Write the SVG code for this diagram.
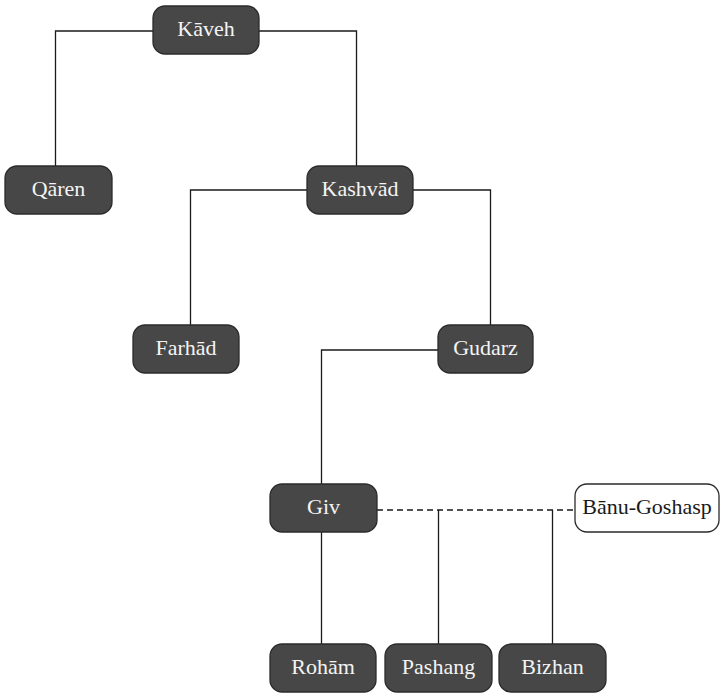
<svg xmlns="http://www.w3.org/2000/svg" width="723" height="693" viewBox="0 0 723 693">
  <style>
    .node rect { fill: #474747; stroke: #2b2b2b; stroke-width: 1.3; }
    .node text { fill: #f4f4f4; font-family: "Liberation Serif", "DejaVu Serif", serif; font-size: 22px; text-anchor: middle; }
    .spouse rect { fill: #ffffff; stroke: #2b2b2b; stroke-width: 1.3; }
    .spouse text { fill: #1a1a1a; }
    .link { fill: none; stroke: #1a1a1a; stroke-width: 1.3; }
    .marriage { stroke-dasharray: 6 4; }
  </style>
  <rect width="723" height="693" fill="#ffffff"/>

  <g id="connectors">
    <path class="link" d="M153 31 H55.5 V166"/>
    <path class="link" d="M259 31 H356.5 V166"/>
    <path class="link" d="M307 190 H190.5 V325"/>
    <path class="link" d="M413 190 H490.5 V325"/>
    <path class="link" d="M438 350 H321.5 V484"/>
    <path class="link marriage" d="M377 510 H575"/>
    <path class="link" d="M321.5 532 V644"/>
    <path class="link" d="M438.5 510 V644"/>
    <path class="link" d="M552.5 510 V644"/>
  </g>

  <g id="kaveh" class="node">
    <rect x="153" y="6" width="106" height="48" rx="12"/>
    <text x="206" y="36">Kāveh</text>
  </g>
  <g id="qaren" class="node">
    <rect x="5" y="166" width="107" height="48" rx="12"/>
    <text x="58.5" y="196">Qāren</text>
  </g>
  <g id="kashvad" class="node">
    <rect x="307" y="166" width="106" height="48" rx="12"/>
    <text x="360" y="196">Kashvād</text>
  </g>
  <g id="farhad" class="node">
    <rect x="133" y="325" width="106" height="48" rx="12"/>
    <text x="186" y="355">Farhād</text>
  </g>
  <g id="gudarz" class="node">
    <rect x="438" y="325" width="95" height="48" rx="12"/>
    <text x="485.5" y="355">Gudarz</text>
  </g>
  <g id="giv" class="node">
    <rect x="270" y="484" width="107" height="48" rx="12"/>
    <text x="323.5" y="514">Giv</text>
  </g>
  <g id="banu-goshasp" class="node spouse">
    <rect x="575" y="484" width="144" height="48" rx="12"/>
    <text x="647" y="514">Bānu-Goshasp</text>
  </g>
  <g id="roham" class="node">
    <rect x="270" y="644" width="106" height="48" rx="12"/>
    <text x="323" y="674">Rohām</text>
  </g>
  <g id="pashang" class="node">
    <rect x="385" y="644" width="107" height="48" rx="12"/>
    <text x="438.5" y="674">Pashang</text>
  </g>
  <g id="bizhan" class="node">
    <rect x="499" y="644" width="107" height="48" rx="12"/>
    <text x="552.5" y="674">Bizhan</text>
  </g>
</svg>
